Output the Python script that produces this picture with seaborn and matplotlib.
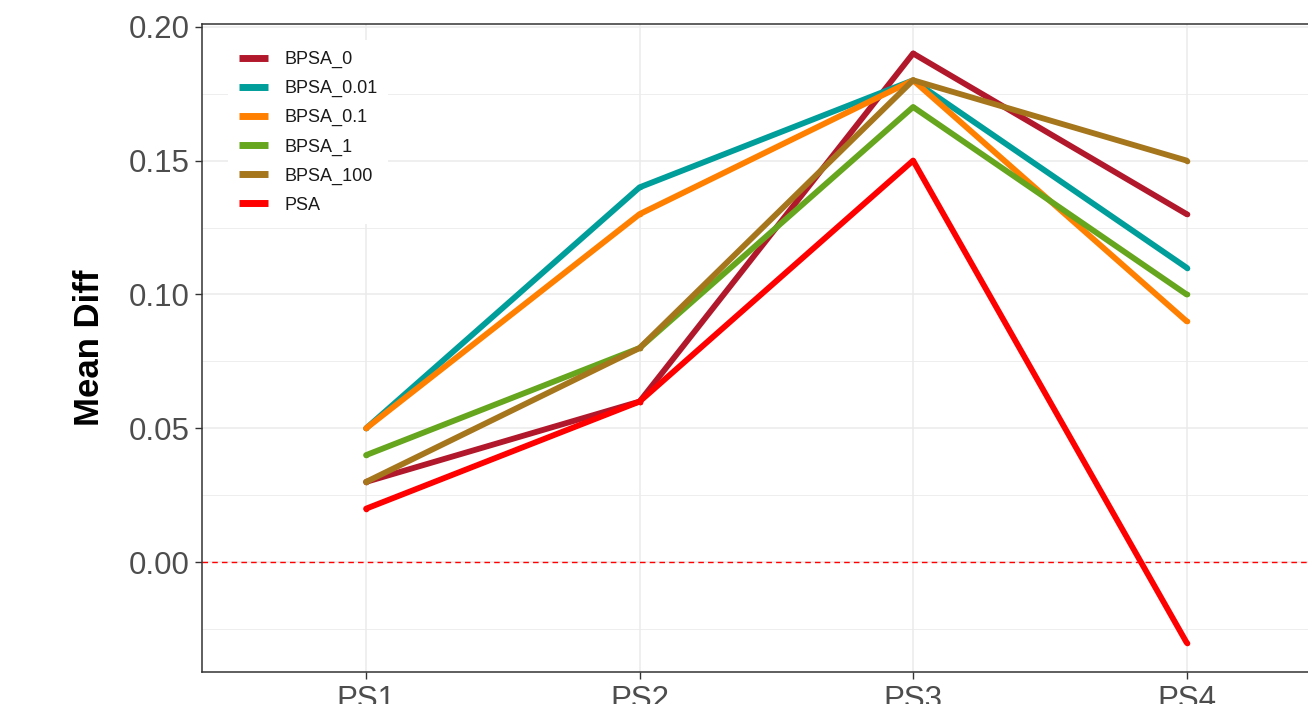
"""Mean Diff par PS - courbes BPSA / PSA."""

import pandas as pd
import matplotlib
matplotlib.use("Agg")
import matplotlib.pyplot as plt
import seaborn as sns

# Données
ps_labels = ["PS1", "PS2", "PS3", "PS4"]
series_names = ["BPSA_0", "BPSA_0.01", "BPSA_0.1", "BPSA_1", "BPSA_100", "PSA"]
bpsa_0 = [0.03, 0.06, 0.19, 0.13]
bpsa_001 = [0.05, 0.14, 0.18, 0.11]
bpsa_01 = [0.05, 0.13, 0.18, 0.09]
bpsa_1 = [0.04, 0.08, 0.17, 0.10]
bpsa_100 = [0.03, 0.08, 0.18, 0.15]
psa = [0.02, 0.06, 0.15, -0.03]
colors = ["#B2182B", "#009E9A", "#FF8000", "#66A61E", "#A6761D", "#FF0000"]
y_ticks = [0.00, 0.05, 0.10, 0.15, 0.20]


def build_frame():
    """Construit le tableau long pour seaborn."""
    values = [bpsa_0, bpsa_001, bpsa_01, bpsa_1, bpsa_100, psa]
    rows = []
    for name, vals in zip(series_names, values):
        for ps, v in zip(ps_labels, vals):
            rows.append({"PS": ps, "Method": name, "MeanDiff": v})
    return pd.DataFrame(rows)


def main():
    df = build_frame()
    sns.set_style("white")
    plt.rcParams["font.family"] = ["Liberation Sans", "DejaVu Sans"]

    fig = plt.figure(figsize=(13.08, 7.04), dpi=100)
    ax = fig.add_axes([202 / 1308, 32 / 704, 1148.7 / 1308, 648 / 704])

    # grille façon theme_bw
    for y in [-0.025, 0.025, 0.075, 0.125, 0.175]:
        ax.axhline(y, color="#EBEBEB", lw=0.6, zorder=0)
    for y in y_ticks:
        ax.axhline(y, color="#EBEBEB", lw=1.1, zorder=0)
    for i in range(len(ps_labels)):
        ax.axvline(i, color="#EBEBEB", lw=1.1, zorder=0)

    ax.axhline(0, color="#FF0000", lw=1.0, ls=(0, (4, 3)), zorder=1)

    palette = dict(zip(series_names, colors))
    sns.lineplot(data=df, x="PS", y="MeanDiff", hue="Method",
                 hue_order=series_names, palette=palette, lw=4.2,
                 marker="o", markersize=4, markeredgewidth=0,
                 sort=False, ax=ax, zorder=3)

    ax.set_xlim(-0.6, 3.6)
    ax.set_ylim(-0.041, 0.201)
    ax.set_yticks(y_ticks)
    ax.set_yticklabels([f"{v:.2f}" for v in y_ticks])
    ax.set_xlabel("")
    ax.set_ylabel("Mean Diff", fontsize=25, fontweight="bold", color="black",
                  labelpad=16)
    ax.tick_params(axis="both", labelsize=22.5, labelcolor="#4D4D4D",
                   color="#333333", length=5, width=1, pad=4,
                   left=True, bottom=True)

    for side in ["left", "bottom", "top", "right"]:
        ax.spines[side].set_color("#333333")
        ax.spines[side].set_linewidth(1.1)

    leg = ax.legend(loc="upper left", bbox_to_anchor=(0.023, 0.975),
                    borderaxespad=0, frameon=True, fontsize=13,
                    handlelength=1.6, handletextpad=0.9, labelspacing=0.66,
                    borderpad=0.6)
    leg.get_frame().set_facecolor("white")
    leg.get_frame().set_edgecolor("none")
    leg.get_frame().set_alpha(1.0)
    for line in leg.get_lines():
        line.set_linewidth(5)
        line.set_marker("")
        line.set_solid_capstyle("butt")
    for txt in leg.get_texts():
        txt.set_color("#1A1A1A")

    plt.savefig("out.png", dpi=100)
    plt.close()


if __name__ == "__main__":
    main()
